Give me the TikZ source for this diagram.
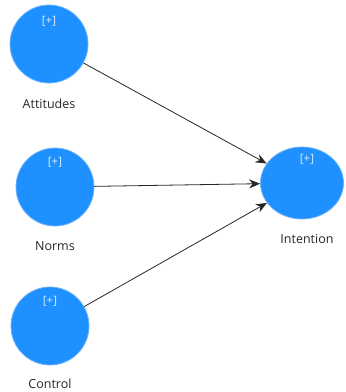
\documentclass[tikz,border=0pt]{standalone}
\usepackage{fontspec}
\setmainfont{Open Sans}
\usetikzlibrary{shapes.geometric,arrows.meta}
\definecolor{lvblue}{RGB}{30,144,255}
\definecolor{lvedge}{RGB}{110,180,250}
\begin{document}
\begin{tikzpicture}[x=1pt,y=-1pt,
  latent/.style={circle,fill=lvblue,draw=lvedge,line width=0.8pt,minimum size=78pt,inner sep=0pt},
  latentell/.style={ellipse,fill=lvblue,draw=lvedge,line width=0.8pt,minimum width=83pt,minimum height=72pt,inner sep=0pt},
  plustag/.style={text=white!85!lvblue,font=\fontsize{11.5}{12}\selectfont,inner sep=0pt},
  lvlabel/.style={text=black!85,font=\fontsize{12.5}{14}\selectfont,inner sep=0pt},
  lvarrow/.style={draw=black!85,line width=0.8pt,-{Stealth[length=11pt,width=9pt]}}]
\useasboundingbox (0,0) rectangle (346,392);
\node[latent] (att) at (49,44) {};
\node[latent] (nor) at (55,187) {};
\node[latent] (con) at (50,326) {};
\node[latentell] (int) at (302,183) {};
\node[plustag] (attp) at (49,21) {[+]};
\node[plustag] (norp) at (55,162) {[+]};
\node[plustag] (conp) at (50,301) {[+]};
\node[plustag] (intp) at (307,159) {[+]};
\node[lvlabel] (attl) at (49,104) {Attitudes};
\node[lvlabel] (norl) at (55,246) {Norms};
\node[lvlabel] (conl) at (50,384) {Control};
\node[lvlabel] (intl) at (307,239) {Intention};
\draw[lvarrow] (att) -- (int);
\draw[lvarrow] (nor) -- (int);
\draw[lvarrow] (con) -- (int);
\end{tikzpicture}
\end{document}
